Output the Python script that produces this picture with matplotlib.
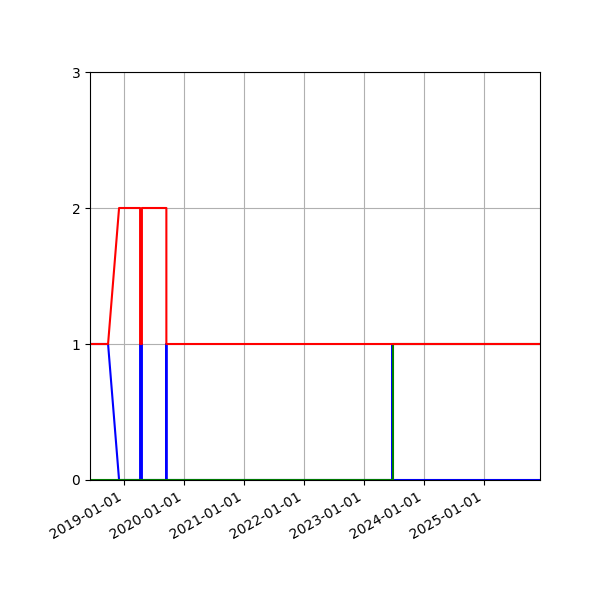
import numpy as np
import pandas as pd
import matplotlib
matplotlib.use("Agg")
import matplotlib.pyplot as plt
import matplotlib.dates as mdates

# series (date, count)
red_dates = ['2018-06-08', '2018-09-26', '2018-12-02', '2019-04-09', '2019-04-09',
             '2019-04-20', '2019-04-20', '2019-09-16', '2019-09-16', '2025-12-08']
red_vals = [1, 1, 2, 2, 1, 1, 2, 2, 1, 1]

blue_dates = ['2018-06-08', '2018-09-26', '2018-12-02', '2019-04-09', '2019-04-09',
              '2019-04-20', '2019-04-20', '2019-09-16', '2019-09-16', '2019-09-16',
              '2023-06-23', '2023-06-23', '2023-06-23', '2025-12-08']
blue_vals = [1, 1, 0, 0, 1, 1, 0, 0, 1, 0, 0, 1, 0, 0]

green_dates = ['2018-06-08', '2023-06-26', '2023-06-26', '2025-12-08']
green_vals = [0, 0, 1, 1]

x_start = '2018-06-08'
x_end = '2025-12-08'
y_ticks = [0, 1, 2, 3]

fig, ax = plt.subplots(figsize=(6, 6), dpi=100)
fig.subplots_adjust(left=0.15, right=0.9, top=0.88, bottom=0.2)

ax.plot(pd.to_datetime(blue_dates), blue_vals, color='b')
ax.plot(pd.to_datetime(green_dates), green_vals, color='g')
ax.plot(pd.to_datetime(red_dates), red_vals, color='r')

ax.set_xlim(pd.Timestamp(x_start), pd.Timestamp(x_end))
ax.set_ylim(0, 3)
ax.set_yticks(y_ticks)
ax.xaxis.set_major_locator(mdates.YearLocator())
ax.xaxis.set_major_formatter(mdates.DateFormatter('%Y-%m-%d'))
ax.grid(True)
for lab in ax.get_xticklabels():
    lab.set_rotation(30)
    lab.set_ha('right')

fig.savefig('out.png')
